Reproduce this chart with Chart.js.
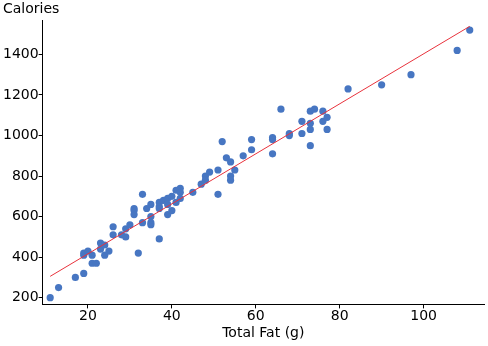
<!DOCTYPE html>
<html>
<head>
<meta charset="utf-8">
<script src="https://cdn.jsdelivr.net/npm/chart.js@4/dist/chart.umd.min.js"></script>
<style>
  html, body { margin: 0; padding: 0; background: #fff; }
  #wrap { width: 488px; height: 346px; }
</style>
</head>
<body>
<div id="wrap"><canvas id="chart"></canvas></div>
<script>
const totalFat = [11, 13, 17, 19, 19, 19, 20, 21, 21, 22, 23, 23, 24, 24, 25, 26, 26, 28, 29, 29,
  30, 31, 31, 31, 32, 33, 33, 34, 35, 35, 35, 35, 37, 37, 37, 37, 38, 39, 39, 39,
  40, 40, 41, 41, 42, 42, 42, 45, 47, 48, 48, 49, 51, 51, 52, 53, 54, 54, 54, 55,
  57, 59, 59, 64, 64, 64, 66, 68, 68, 71, 71, 73, 73, 73, 73, 74, 76, 76, 77, 77,
  82, 90, 97, 108, 111]
const calories = [200, 250, 300, 320, 410, 420, 430, 410, 370, 370, 470, 440, 460, 410, 430, 550, 510, 510, 500, 540,
  560, 640, 630, 610, 420, 710, 570, 640, 660, 600, 570, 560, 490, 670, 650, 640, 680, 690, 610, 660,
  700, 630, 730, 670, 740, 720, 690, 720, 760, 800, 780, 820, 830, 710, 970, 890, 870, 800, 780, 830,
  900, 980, 930, 990, 980, 910, 1130, 1010, 1000, 1070, 1010, 1120, 1060, 1030, 950, 1130, 1120, 1070, 1090, 1030,
  1230, 1250, 1300, 1420, 1520]
const xTicks = [20, 40, 60, 80, 100]
const yTicks = [200, 400, 600, 800, 1000, 1200, 1400]

const points = totalFat.map((x, i) => ({ x: x, y: calories[i] }))

// least squares fit for the red line
const n = totalFat.length
const mx = totalFat.reduce((a, b) => a + b, 0) / n
const my = calories.reduce((a, b) => a + b, 0) / n
let sxy = 0, sxx = 0
totalFat.forEach((x, i) => {
  sxy += (x - mx) * (calories[i] - my)
  sxx += (x - mx) * (x - mx)
})
const slope = sxy / sxx
const intercept = my - slope * mx
const xMin = Math.min(...totalFat)
const xMax = Math.max(...totalFat)
const fitLine = [
  { x: xMin, y: intercept + slope * xMin },
  { x: xMax, y: intercept + slope * xMax }
]

const font = { family: "'DejaVu Sans', Verdana, sans-serif", size: 14 }

new Chart(document.getElementById('chart'), {
  type: 'scatter',
  data: {
    datasets: [
      {
        data: points,
        backgroundColor: '#4776c2',
        borderWidth: 0,
        pointRadius: 3.6,
        order: 2
      },
      {
        type: 'line',
        data: fitLine,
        borderColor: '#e8323c',
        borderWidth: 1,
        pointRadius: 0,
        fill: false,
        order: 1
      }
    ]
  },
  options: {
    responsive: true,
    maintainAspectRatio: false,
    animation: false,
    layout: {
      padding: { left: 3, right: 2, top: 0, bottom: 4 }
    },
    plugins: {
      legend: { display: false },
      tooltip: { enabled: false },
      title: {
        display: true,
        text: 'Calories',
        align: 'start',
        color: '#000',
        font: { family: font.family, size: 14, weight: 'normal' },
        padding: { top: 1, bottom: 3 }
      }
    },
    scales: {
      x: {
        type: 'linear',
        min: 9.2,
        max: 114.4,
        afterBuildTicks: (axis) => { axis.ticks = xTicks.map(v => ({ value: v })) },
        grid: { drawOnChartArea: false, drawTicks: true, tickLength: 4, color: '#000' },
        border: { display: true, color: '#000', width: 1 },
        ticks: { color: '#000', font: font, padding: 0, maxRotation: 0, callback: (v) => String(v) },
        title: {
          display: true,
          text: 'Total Fat (g)',
          color: '#000',
          font: font,
          padding: { top: 0, bottom: 0 }
        }
      },
      y: {
        type: 'linear',
        min: 167,
        max: 1566,
        afterBuildTicks: (axis) => { axis.ticks = yTicks.map(v => ({ value: v })) },
        grid: { drawOnChartArea: false, drawTicks: true, tickLength: 4, color: '#000' },
        border: { display: true, color: '#000', width: 1 },
        ticks: { color: '#000', font: font, padding: 0, callback: (v) => String(v) }
      }
    }
  }
})
</script>
</body>
</html>
